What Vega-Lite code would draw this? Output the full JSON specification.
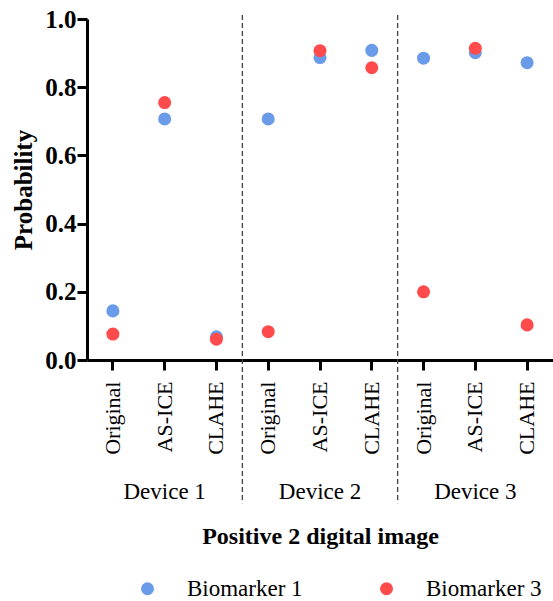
{
  "$schema": "https://vega.github.io/schema/vega-lite/v6.json",
  "width": 466,
  "height": 341,
  "autosize": {"type": "none"},
  "padding": {"left": 87, "top": 19, "right": 0, "bottom": 241},
  "config": {
    "view": {"stroke": null},
    "font": "Liberation Serif",
    "axis": {"labelFont": "Liberation Serif", "titleFont": "Liberation Serif"},
    "legend": {"labelFont": "Liberation Serif", "titleFont": "Liberation Serif"},
    "text": {"font": "Liberation Serif"}
  },
  "datasets": {
    "points": [
      {"image": "D1 Original", "series": "Biomarker 1", "p": 0.144},
      {"image": "D1 AS-ICE", "series": "Biomarker 1", "p": 0.707},
      {"image": "D1 CLAHE", "series": "Biomarker 1", "p": 0.068},
      {"image": "D2 Original", "series": "Biomarker 1", "p": 0.707},
      {"image": "D2 AS-ICE", "series": "Biomarker 1", "p": 0.887},
      {"image": "D2 CLAHE", "series": "Biomarker 1", "p": 0.908},
      {"image": "D3 Original", "series": "Biomarker 1", "p": 0.885},
      {"image": "D3 AS-ICE", "series": "Biomarker 1", "p": 0.901},
      {"image": "D3 CLAHE", "series": "Biomarker 1", "p": 0.872},
      {"image": "D1 Original", "series": "Biomarker 3", "p": 0.076},
      {"image": "D1 AS-ICE", "series": "Biomarker 3", "p": 0.755},
      {"image": "D1 CLAHE", "series": "Biomarker 3", "p": 0.061},
      {"image": "D2 Original", "series": "Biomarker 3", "p": 0.083},
      {"image": "D2 AS-ICE", "series": "Biomarker 3", "p": 0.907},
      {"image": "D2 CLAHE", "series": "Biomarker 3", "p": 0.857},
      {"image": "D3 Original", "series": "Biomarker 3", "p": 0.200},
      {"image": "D3 AS-ICE", "series": "Biomarker 3", "p": 0.914},
      {"image": "D3 CLAHE", "series": "Biomarker 3", "p": 0.103}
    ],
    "dividers": [{"after": "D1 CLAHE"}, {"after": "D2 CLAHE"}],
    "devices": [
      {"device": "Device 1", "at": "D1 AS-ICE"},
      {"device": "Device 2", "at": "D2 AS-ICE"},
      {"device": "Device 3", "at": "D3 AS-ICE"}
    ]
  },
  "layer": [
    {
      "data": {"name": "dividers"},
      "mark": {"type": "rule", "strokeDash": [5, 3], "color": "#444444", "strokeWidth": 1.3},
      "encoding": {
        "x": {"field": "after", "type": "nominal", "bandPosition": 1, "title": "Positive 2 digital image"},
        "y": {"datum": 1.012, "type": "quantitative", "title": "Probability"},
        "y2": {"datum": -0.42}
      }
    },
    {
      "data": {"name": "points"},
      "mark": {"type": "circle", "size": 170, "opacity": 1},
      "encoding": {
        "x": {
          "field": "image",
          "type": "nominal",
          "title": "Positive 2 digital image",
          "scale": {
            "type": "band",
            "paddingInner": 0,
            "paddingOuter": 0,
            "domain": ["D1 Original", "D1 AS-ICE", "D1 CLAHE", "D2 Original", "D2 AS-ICE", "D2 CLAHE", "D3 Original", "D3 AS-ICE", "D3 CLAHE"]
          },
          "axis": {
            "title": "Positive 2 digital image",
            "titleFont": "Liberation Serif",
            "titleFontSize": 24,
            "titleFontWeight": "bold",
            "titleColor": "black",
            "titlePadding": 70,
            "labelExpr": "split(datum.label, ' ')[1]",
            "labelFont": "Liberation Serif",
            "labelAngle": -90,
            "labelFontSize": 22,
            "labelColor": "black",
            "labelPadding": 11,
            "tickSize": 10,
            "tickWidth": 3,
            "tickColor": "black",
            "domainWidth": 3,
            "domainColor": "black",
            "grid": false
          }
        },
        "y": {
          "field": "p",
          "type": "quantitative",
          "title": "Probability",
          "scale": {"domain": [0, 1], "nice": false},
          "axis": {
            "title": "Probability",
            "titleFont": "Liberation Serif",
            "titleFontSize": 25,
            "titleFontWeight": "bold",
            "titleColor": "black",
            "titlePadding": 8,
            "values": [0, 0.2, 0.4, 0.6, 0.8, 1.0],
            "format": ".1f",
            "labelFont": "Liberation Serif",
            "labelFontSize": 25,
            "labelFontWeight": "bold",
            "labelColor": "black",
            "labelPadding": 1,
            "tickSize": 10,
            "tickWidth": 3,
            "tickColor": "black",
            "domainWidth": 3,
            "domainColor": "black",
            "grid": false
          }
        },
        "color": {
          "field": "series",
          "type": "nominal",
          "scale": {"domain": ["Biomarker 1", "Biomarker 3"], "range": ["#6A9BE8", "#FF4B4B"]},
          "legend": {
            "title": null,
            "orient": "none",
            "legendX": 49,
            "legendY": 558,
            "direction": "horizontal",
            "labelFont": "Liberation Serif",
            "labelFontSize": 23,
            "labelColor": "black",
            "symbolType": "circle",
            "symbolSize": 170,
            "symbolOpacity": 1,
            "symbolStrokeWidth": 0,
            "labelOffset": 28,
            "columnPadding": 72
          }
        }
      }
    },
    {
      "data": {"name": "devices"},
      "mark": {"type": "text", "font": "Liberation Serif", "fontSize": 23, "baseline": "middle", "align": "center", "color": "black"},
      "encoding": {
        "x": {"field": "at", "type": "nominal", "title": "Positive 2 digital image"},
        "y": {"datum": -0.387, "type": "quantitative", "title": "Probability"},
        "text": {"field": "device"}
      }
    }
  ]
}
